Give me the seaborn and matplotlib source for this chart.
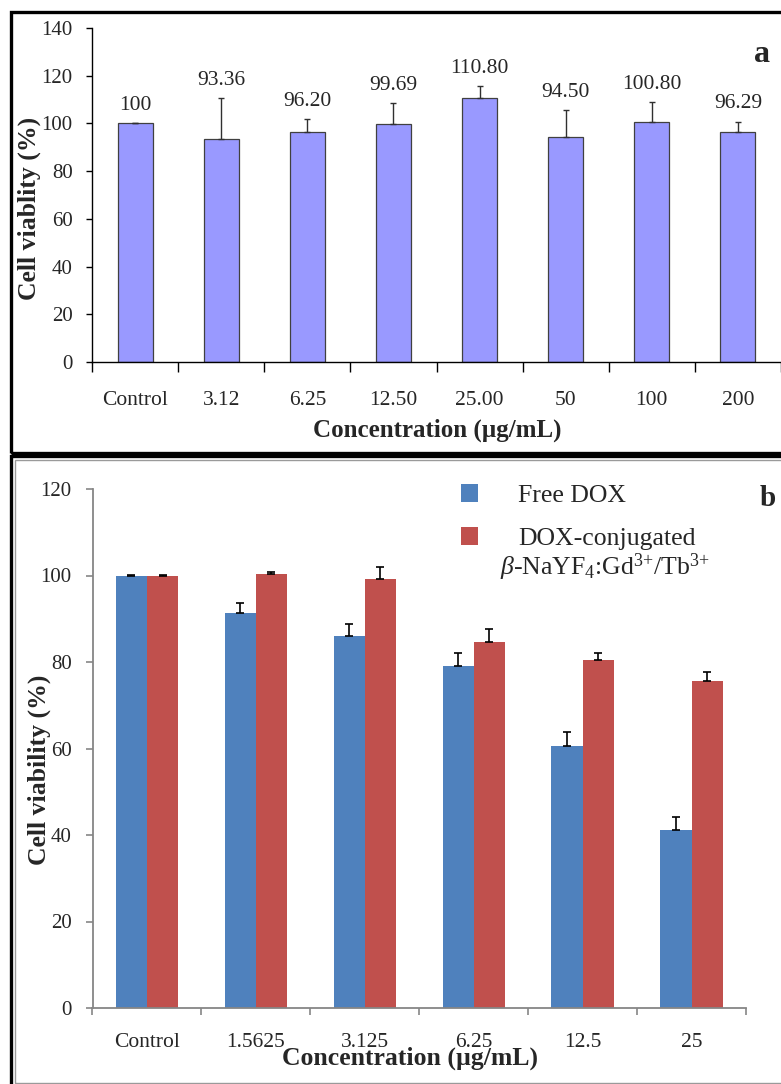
import numpy as np
import pandas as pd
import matplotlib
matplotlib.use("Agg")
import matplotlib.pyplot as plt
from matplotlib.patches import Rectangle, Patch
import seaborn as sns

# ---------------- data ----------------
conc_a = ["Control", "3.12", "6.25", "12.50", "25.00", "50", "100", "200"]
viab_a = [100, 93.36, 96.20, 99.69, 110.80, 94.50, 100.80, 96.29]
err_a = [0, 17.2, 5.5, 8.7, 4.7, 11.0, 8.0, 4.4]
val_labels_a = ["100", "93.36", "96.20", "99.69", "110.80", "94.50", "100.80", "96.29"]

conc_b = ["Control", "1.5625", "3.125", "6.25", "12.5", "25"]
series_b = ["Free DOX", "DOX-conjugated"]
free_dox = [100, 91.3, 85.9, 79.1, 60.5, 41.1]
free_dox_err = [0.2, 2.4, 3.0, 3.0, 3.4, 3.0]
conj_dox = [100, 100.3, 99.1, 84.7, 80.5, 75.5]
conj_dox_err = [0.2, 0.5, 2.8, 3.0, 1.6, 2.1]

yticks_a = [0, 20, 40, 60, 80, 100, 120, 140]
yticks_b = [0, 20, 40, 60, 80, 100, 120]

# ---------------- style ----------------
sns.set_style("ticks")
plt.rcParams["font.family"] = ["Liberation Serif", "DejaVu Serif"]
plt.rcParams["mathtext.fontset"] = "custom"
plt.rcParams["mathtext.rm"] = "Liberation Serif"
plt.rcParams["mathtext.it"] = "Liberation Serif:italic"
plt.rcParams["mathtext.bf"] = "Liberation Serif:bold"

W, H = 781, 1084
fig = plt.figure(figsize=(W / 100, H / 100), dpi=100)

def fx(px):
    return px / W

def fy(py):
    return 1 - py / H

# ---------------- panel a ----------------
axa = fig.add_axes([fx(92), fy(362), fx(781) - fx(92), (362 - 28) / H])
df_a = pd.DataFrame({"conc": conc_a, "viab": viab_a})
sns.barplot(data=df_a, x="conc", y="viab", color="#9999FF", saturation=1,
            edgecolor="#404040", linewidth=0.9, width=0.405, ax=axa)
bars_a = axa.containers[0]
xa = [p.get_x() + p.get_width() / 2 for p in bars_a]
axa.errorbar(xa, viab_a, yerr=[np.zeros(len(err_a)), err_a], fmt="none",
             ecolor="#303030", elinewidth=1.0, capsize=2.2, capthick=1.0)
for x, v, e, lab in zip(xa, viab_a, err_a, val_labels_a):
    axa.text(x, v + e + 7.5, lab, ha="center", va="center", fontsize=15.5)
axa.set_xlim(-0.5, len(conc_a) - 0.5)
axa.set_ylim(0, 140)
axa.set_yticks(yticks_a)
axa.set_yticklabels([str(t) for t in yticks_a], fontsize=15)
axa.set_xticks(np.arange(-0.5, len(conc_a), 1))
axa.set_xticklabels([""] * (len(conc_a) + 1))
axa.set_xticks(range(len(conc_a)), minor=True)
axa.set_xticklabels(conc_a, minor=True, fontsize=15.5)
axa.tick_params(axis="x", which="major", length=7, width=1, color="black", direction="out")
axa.tick_params(axis="x", which="minor", length=0, pad=21)
axa.tick_params(axis="y", length=4, width=1, color="black", pad=10, direction="out")
for s in ["top", "right"]:
    axa.spines[s].set_visible(False)
for s in ["left", "bottom"]:
    axa.spines[s].set_color("black")
    axa.spines[s].set_linewidth(1.0)
axa.set_xlabel("Concentration (µg/mL)", fontsize=18, fontweight="bold")
axa.set_ylabel("Cell viablity (%)", fontsize=18.5, fontweight="bold")
axa.xaxis.set_label_coords((437 - 92) / (781 - 92), -(419 - 362) / (362 - 28))
axa.yaxis.set_label_coords(-(92 - 41) / (781 - 92), (362 - 208) / (362 - 28))
fig.text(fx(762), fy(54), "a", fontsize=23, fontweight="bold", ha="center", va="center")

# ---------------- panel b ----------------
axb = fig.add_axes([fx(92.5), fy(1008), fx(746) - fx(92.5), (1008 - 489) / H])
df_b = pd.DataFrame({
    "conc": conc_b * 2,
    "series": [series_b[0]] * len(conc_b) + [series_b[1]] * len(conc_b),
    "viab": free_dox + conj_dox,
})
palette_b = {series_b[0]: "#4F81BD", series_b[1]: "#C0504D"}
sns.barplot(data=df_b, x="conc", y="viab", hue="series", hue_order=series_b,
            palette=palette_b, saturation=1, width=0.573, edgecolor="none",
            linewidth=0, ax=axb, legend=False)
for cont, vals, errs in zip(axb.containers, [free_dox, conj_dox], [free_dox_err, conj_dox_err]):
    xs = [p.get_x() + p.get_width() / 2 for p in cont]
    axb.errorbar(xs, vals, yerr=[np.zeros(len(errs)), errs], fmt="none",
                 ecolor="black", elinewidth=1.2, capsize=3, capthick=1.2)
axb.set_xlim(-0.5, len(conc_b) - 0.5)
axb.set_ylim(0, 120)
axb.set_yticks(yticks_b)
axb.set_yticklabels([str(t) for t in yticks_b], fontsize=15)
axb.set_xticks(np.arange(-0.5, len(conc_b), 1))
axb.set_xticklabels([""] * (len(conc_b) + 1))
axb.set_xticks(range(len(conc_b)), minor=True)
axb.set_xticklabels(conc_b, minor=True, fontsize=15.5)
axb.tick_params(axis="x", which="major", length=5, width=1.2, color="#868686", direction="out")
axb.tick_params(axis="x", which="minor", length=0, pad=18)
axb.tick_params(axis="y", length=5, width=1.2, color="#868686", pad=10, direction="out")
for s in ["top", "right"]:
    axb.spines[s].set_visible(False)
for s in ["left", "bottom"]:
    axb.spines[s].set_color("#868686")
    axb.spines[s].set_linewidth(1.3)
axb.set_xlabel("Concentration (µg/mL)", fontsize=18.5, fontweight="bold")
axb.set_ylabel("Cell viability (%)", fontsize=18.5, fontweight="bold")
axb.xaxis.set_label_coords((410 - 92.5) / (746 - 92.5), -(1047 - 1008) / (1008 - 489))
axb.yaxis.set_label_coords(-(92.5 - 51) / (746 - 92.5), (1008 - 770) / (1008 - 489))

handles = [Patch(facecolor=palette_b[s], edgecolor="none") for s in series_b]
leg = axb.legend(handles, series_b, loc="upper left",
                 bbox_to_anchor=(fx(461), fy(484)), bbox_transform=fig.transFigure,
                 frameon=False, borderpad=0, borderaxespad=0, fontsize=18.5,
                 handlelength=0.68, handleheight=0.68, handletextpad=1.55,
                 labelspacing=0.8)
fig.text(fx(605), fy(567), r"$\beta$-NaYF$_4$:Gd$^{3{+}}$/Tb$^{3{+}}$",
         fontsize=18.5, ha="center", va="center")
fig.text(fx(768), fy(498), "b", fontsize=21, fontweight="bold", ha="center", va="center")

# ---------------- panel frames ----------------
fig.patches.append(Rectangle((fx(11), fy(453)), 1.2, fy(12) - fy(453),
                             transform=fig.transFigure, fill=False,
                             edgecolor="black", linewidth=2.4, zorder=0))
fig.patches.append(Rectangle((fx(11), fy(1100)), 1.2, fy(456.5) - fy(1100),
                             transform=fig.transFigure, fill=False,
                             edgecolor="black", linewidth=2.4, zorder=0))
fig.patches.append(Rectangle((fx(14.5), fy(1083)), 1.2, fy(459.5) - fy(1083),
                             transform=fig.transFigure, fill=False,
                             edgecolor="#9a9a9a", linewidth=1.0, zorder=0))

fig.savefig("out.png", dpi=100)
